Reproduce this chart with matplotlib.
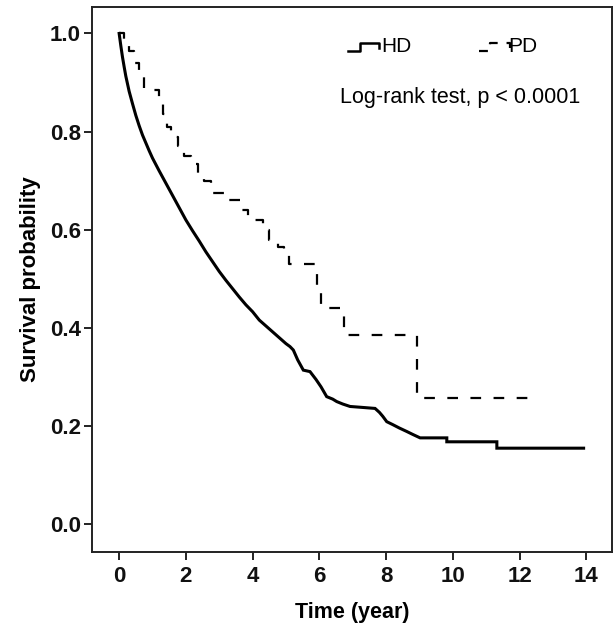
import matplotlib
matplotlib.use("Agg")
import matplotlib.pyplot as plt
from matplotlib.lines import Line2D

plt.rcParams['font.family'] = ['Liberation Sans', 'DejaVu Sans']

# HD group: Kaplan-Meier estimate (time in years, survival).
# Many small events, so it is traced as a polyline; plateaus listed by their corners.
hd_time = [0.0, 0.05, 0.1, 0.15, 0.2, 0.3, 0.4, 0.5, 0.6, 0.7, 0.8, 0.9, 1.0,
           1.2, 1.4, 1.6, 1.8, 2.0, 2.2, 2.4, 2.6, 2.8, 3.0, 3.2, 3.4, 3.6,
           3.8, 4.0, 4.2, 4.4, 4.6, 4.8, 5.0, 5.12, 5.22, 5.35, 5.52, 5.72,
           5.9, 6.05, 6.22, 6.4, 6.52, 6.7, 6.92, 7.3, 7.67, 7.8, 7.9, 8.02,
           8.2, 8.4, 8.62, 8.8, 9.02, 9.82, 9.82, 11.32, 11.32, 13.92]
hd_surv = [1.0, 0.975, 0.952, 0.932, 0.913, 0.882, 0.857, 0.833, 0.812, 0.793,
           0.777, 0.761, 0.746, 0.72, 0.695, 0.67, 0.645, 0.62, 0.598, 0.577,
           0.555, 0.535, 0.515, 0.497, 0.48, 0.463, 0.447, 0.433, 0.416, 0.404,
           0.392, 0.38, 0.368, 0.362, 0.355, 0.335, 0.314, 0.311, 0.295, 0.28,
           0.26, 0.255, 0.25, 0.245, 0.24, 0.238, 0.236, 0.228, 0.22, 0.209,
           0.203, 0.196, 0.189, 0.183, 0.176, 0.176, 0.168, 0.168, 0.155, 0.155]

# PD group: fewer events, drawn as a true step function
pd_time = [0.0, 0.15, 0.3, 0.45, 0.6, 0.75, 1.18, 1.3, 1.42, 1.55, 1.75, 1.95,
           2.15, 2.35, 2.55, 2.75, 3.2, 3.68, 3.85, 4.3, 4.5, 4.75, 4.95, 5.1,
           5.92, 6.05, 6.75, 8.92, 12.3]
pd_surv = [1.0, 0.985, 0.965, 0.94, 0.915, 0.885, 0.86, 0.835, 0.81, 0.79,
           0.77, 0.75, 0.735, 0.715, 0.70, 0.675, 0.66, 0.64, 0.62, 0.60, 0.58,
           0.565, 0.55, 0.53, 0.485, 0.44, 0.386, 0.258, 0.258]

xticks = [0, 2, 4, 6, 8, 10, 12, 14]
yticks = [0.0, 0.2, 0.4, 0.6, 0.8, 1.0]

fig = plt.figure(figsize=(6.16, 6.32), dpi=100)
ax = fig.add_axes([0.149, 0.127, 0.845, 0.862])

ax.plot(hd_time, hd_surv, color='black', lw=2.2, solid_joinstyle='miter')
pd_line, = ax.plot(pd_time, pd_surv, drawstyle='steps-post', color='black', lw=1.6)
pd_line.set_dashes([4.8, 5.6])

ax.set_xlim(-0.82, 14.78)
ax.set_ylim(-0.056, 1.054)
ax.set_xticks(xticks)
ax.set_yticks(yticks)
ax.set_yticklabels([f'{v:.1f}' for v in yticks])
for lab in ax.get_xticklabels() + ax.get_yticklabels():
    lab.set_fontweight('bold')

for sp in ax.spines.values():
    sp.set_linewidth(1.4)
    sp.set_color('#222222')
ax.tick_params(direction='out', length=6, width=1.4, labelsize=16, pad=2,
               color='#222222', labelcolor='#111111')
ax.tick_params(axis='x', pad=4)

ax.set_xlabel('Time (year)', fontsize=15.5, fontweight='bold', labelpad=11)
ax.set_ylabel('Survival probability', fontsize=16, fontweight='bold', labelpad=6)

# legend icons (step glyphs), in axes fraction
icon_x = [0.493, 0.515, 0.515, 0.5525, 0.5525]
icon_y = [0.920, 0.920, 0.933, 0.933, 0.924]
ax.add_line(Line2D(icon_x, icon_y, transform=ax.transAxes, color='black', lw=1.8))
ax.text(0.557, 0.927, 'HD', transform=ax.transAxes, fontsize=15, va='center')

pd_icon = Line2D([v + 0.25 for v in icon_x], icon_y, transform=ax.transAxes,
                 color='black', lw=1.6)
pd_icon.set_dashes([4.0, 4.0])
ax.add_line(pd_icon)
ax.text(0.80, 0.927, 'PD', transform=ax.transAxes, fontsize=15, va='center')

ax.text(0.477, 0.833, 'Log-rank test, p < 0.0001', transform=ax.transAxes,
        fontsize=15.5, va='center')

fig.savefig('out.png', dpi=100)
